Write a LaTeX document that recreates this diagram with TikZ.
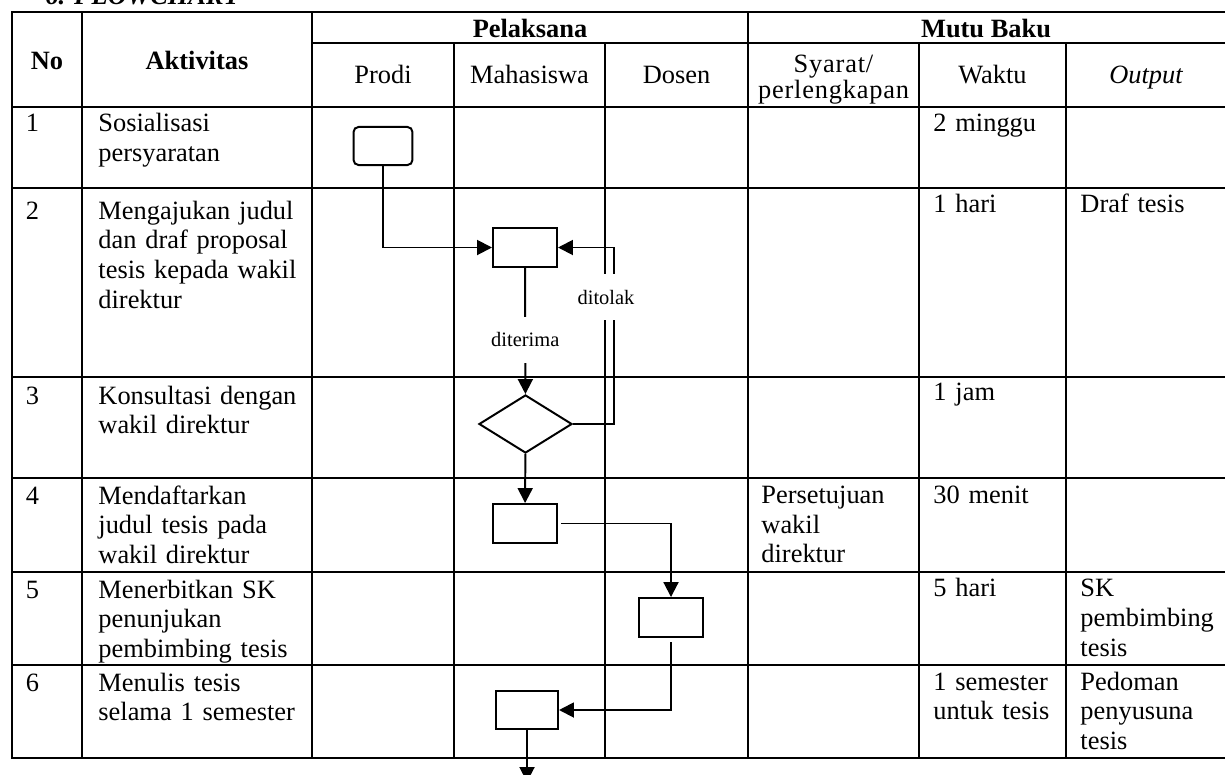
\documentclass[tikz,border=0pt]{standalone}
\usepackage{fontspec}
\setmainfont{Liberation Serif}
\usetikzlibrary{shapes.geometric,arrows.meta}

\begin{document}
\begin{tikzpicture}[x=0.4545pt,y=-0.4545pt,
    every node/.style={inner sep=0pt},
    grid/.style={line width=1pt,line cap=rect},
    cell/.style={anchor=base west,text width=#1,align=left,font=\fontsize{12}{13.5}\selectfont},
    cell/.default=95pt,
    head/.style={anchor=base,font=\fontsize{12}{13.5}\selectfont},
    bhead/.style={anchor=base,font=\fontsize{12}{13.5}\selectfont\bfseries},
    proc/.style={draw,line width=0.9pt,minimum width=29.1pt,minimum height=17.7pt},
    flow/.style={draw,line width=0.9pt,-{Triangle[length=6.8pt,width=6.8pt]}},
    lbl/.style={fill=white,font=\fontsize{9.3}{11}\selectfont,inner xsep=2pt,inner ysep=7.2pt}]

      \useasboundingbox (0,0) rectangle (1225,775);
      \clip (0,0) rectangle (1225,775);

      \node[anchor=base west,font=\fontsize{12}{13.5}\selectfont\bfseries\itshape] (judul) at (45,5) {6. FLOWCHART};

      \foreach \y in {12,107,188,377,478,572,665,758}
        \draw[grid] (12,\y) -- (1226,\y);
      \draw[grid] (312,43) -- (1226,43);
      \foreach \x in {12,82,312,748,1226}
        \draw[grid] (\x,12) -- (\x,758);
      \foreach \x in {454,605,919,1066}
        \draw[grid] (\x,43) -- (\x,758);

      \node[bhead] (hno)   at (47,70)    {No};
      \node[bhead] (hakt)  at (197,70)   {Aktivitas};
      \node[bhead] (hpel)  at (530,37)   {Pelaksana};
      \node[bhead] (hmutu) at (986,37)   {Mutu Baku};
      \node[head]  (hprodi) at (383,83.3)  {Prodi};
      \node[head]  (hmhs)   at (529.5,83.3) {Mahasiswa};
      \node[head]  (hdos)   at (676.5,83.3) {Dosen};
      \node[head,text width=80pt,align=center,font=\fontsize{12}{11.8}\selectfont\addfontfeatures{LetterSpace=3}] (hsyarat) at (833.5,72.5) {Syarat/\\perlengkapan};
      \node[head]  (hwaktu) at (992.5,83.3) {Waktu};
      \node[head,font=\fontsize{12}{13.5}\selectfont\itshape] (hout) at (1146,83.3) {Output};

      \node[cell] (n1) at (25.5,131.5) {1};
      \node[cell] (a1) at (98,131.5)   {Sosialisasi\\persyaratan};
      \node[cell] (w1) at (933,131.5)  {2 minggu};

      \node[cell] (n2) at (25.5,219)   {2};
      \node[cell] (a2) at (98,219)     {Mengajukan judul\\dan draf proposal\\tesis kepada wakil\\direktur};
      \node[cell] (w2) at (933,212.7)  {1 hari};
      \node[cell] (o2) at (1080,212.7) {Draf tesis};

      \node[cell] (n3) at (25.5,404)   {3};
      \node[cell] (a3) at (98,404)     {Konsultasi dengan\\wakil direktur};
      \node[cell] (w3) at (933,400.7)  {1 jam};

      \node[cell] (n4) at (25.5,504)   {4};
      \node[cell] (a4) at (98,504)     {Mendaftarkan\\judul tesis pada\\wakil direktur};
      \node[cell] (s4) at (761,503.3)  {Persetujuan\\wakil\\direktur};
      \node[cell] (w4) at (933,503.3)  {30 menit};

      \node[cell] (n5) at (25.5,598)   {5};
      \node[cell] (a5) at (98,598)     {Menerbitkan SK\\penunjukan\\pembimbing tesis};
      \node[cell] (w5) at (933,596.7)  {5 hari};
      \node[cell] (o5) at (1080,596.7) {SK\\pembimbing\\tesis};

      \node[cell] (n6) at (25.5,691)   {6};
      \node[cell] (a6) at (98,691)     {Menulis tesis\\selama 1 semester};
      \node[cell] (w6) at (933,690)    {\makebox[54pt][s]{1 semester}\\untuk tesis};
      \node[cell] (o6) at (1080,690)   {Pedoman\\penyusuna\\tesis};

      \node[proc,rounded corners=2.3pt,minimum width=26.8pt,minimum height=17.3pt] (1) at (383,146) {};
      \node[proc] (2) at (525,247.5) {};
      \node[draw,line width=0.9pt,diamond,minimum width=42.3pt,minimum height=26.4pt] (3) at (525.5,424) {};
      \node[proc] (4) at (525,523.5) {};
      \node[proc] (5) at (671,617.5) {};
      \node[proc,minimum width=28.2pt,minimum height=17.3pt] (6) at (527,710) {};
      \coordinate (balik) at (614,247.5);
      \coordinate (lanjut) at (527,782);

      \draw[flow] (1) |- (2);
      \draw[flow] (2) -- node[lbl,pos=0.57] (terima) {diterima} (3);
      \draw[flow] (3.east) -| (balik) -- (2.east);
      \node[lbl] (tolak) at (606,297) {ditolak};
      \draw[flow] (3) -- (4);
      \draw[flow,shorten <=1.5pt] (4) -| (5);
      \draw[flow,shorten <=2pt] (5) |- (6);
      \draw[flow] (6) -- (lanjut);

    \end{tikzpicture}
\end{document}
